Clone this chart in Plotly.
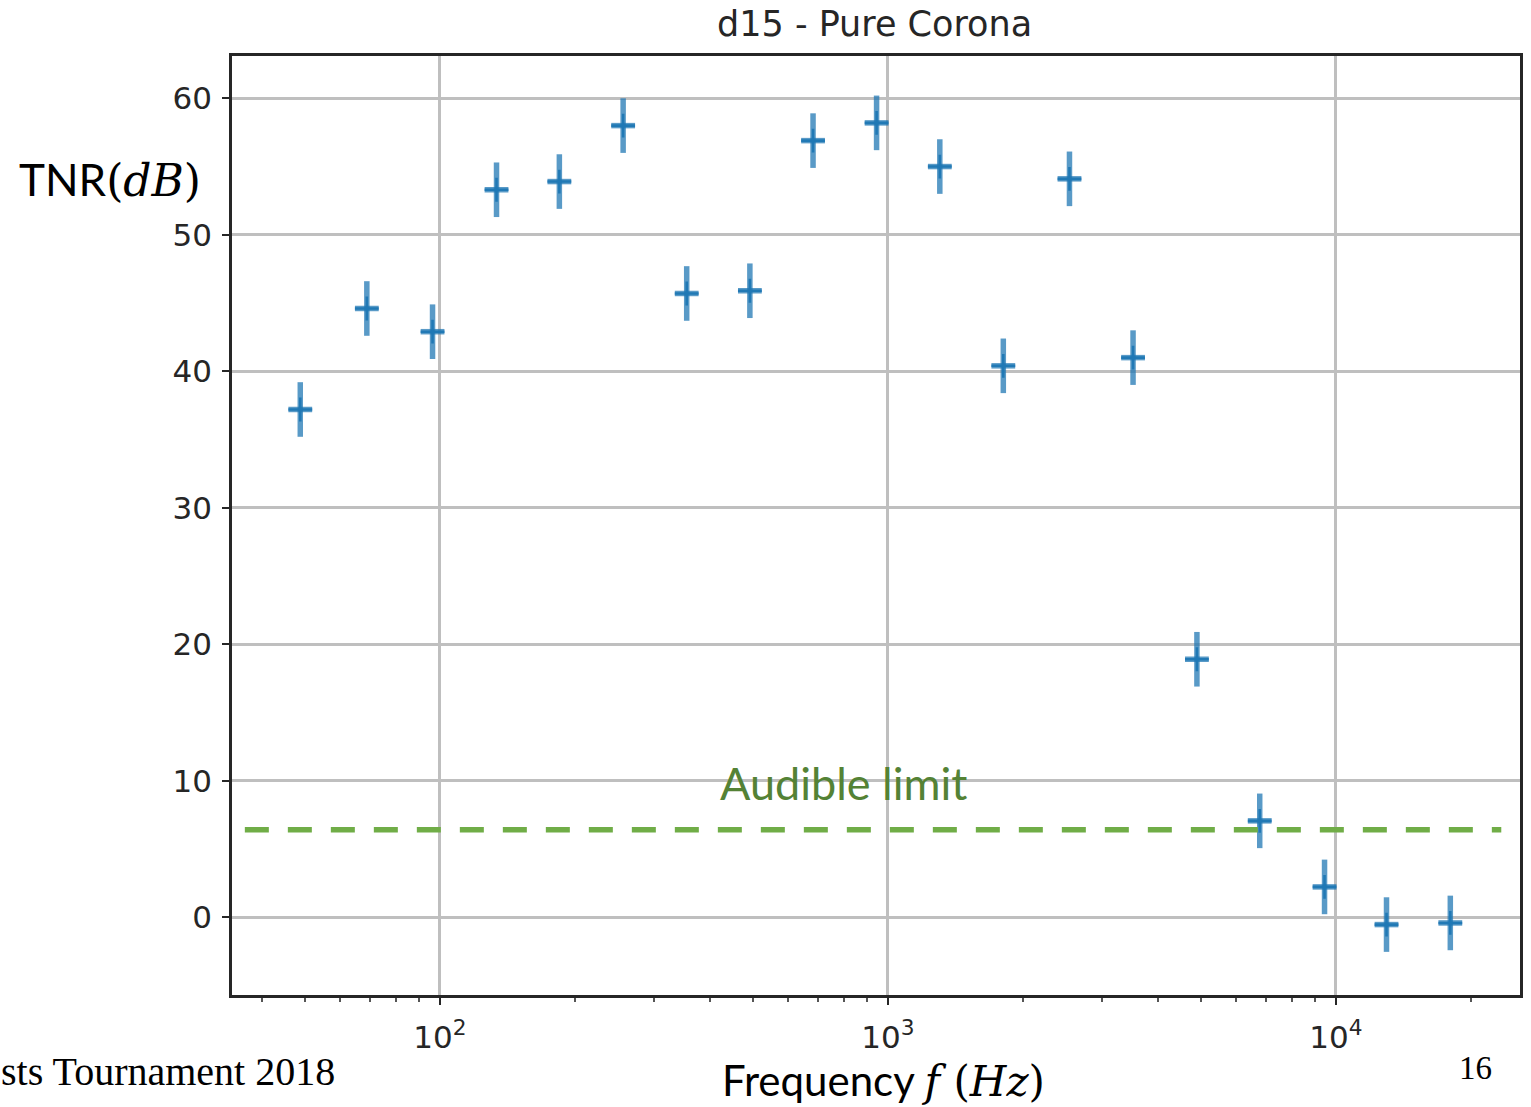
import plotly.graph_objects as go

# Measured band centre frequencies (Hz) and TNR (dB)
freq_hz = [48.8, 68.7, 96.3, 133.8, 184.8, 256.5, 355.6, 492.0, 680.7, 943.6,
           1306.0, 1810.0, 2543.0, 3526.0, 4896.0, 6761.0, 9434.0, 12973.0, 18007.0]
tnr_db = [37.2, 44.6, 42.9, 53.3, 53.9, 58.0, 45.7, 45.9, 56.9, 58.2,
          55.0, 40.4, 54.1, 41.0, 18.9, 7.06, 2.22, -0.54, -0.42]
tnr_err = [2.0] * len(freq_hz)

# Audible threshold and the frequency span it is drawn over
audible_limit_db = 6.4
limit_span_hz = [36.7, 23400.0]

y_ticks = [0, 10, 20, 30, 40, 50, 60]
x_major = [100, 1000, 10000]
x_major_text = ["10<sup>2</sup>", "10<sup>3</sup>", "10<sup>4</sup>"]
x_minor = [40, 50, 60, 70, 80, 90, 200, 300, 400, 500, 600, 700, 800, 900,
           2000, 3000, 4000, 5000, 6000, 7000, 8000, 9000, 20000]

BLUE_SOFT = "rgba(31,119,180,0.74)"
BLUE = "rgba(31,119,180,0.95)"
AXIS = "#262626"
GRID = "#bfbfbf"

W, H = 1531, 1107
L, R, T, B = 232, 8, 56, 112
PW, PH = W - L - R, H - T - B


def px(x):
    return (x - L) / PW


def py(y):
    return (H - B - y) / PH


fig = go.Figure()

# error bars with a short horizontal bar at each point
fig.add_trace(go.Scatter(
    x=freq_hz, y=tnr_db, mode="markers",
    error_y=dict(type="data", array=tnr_err, visible=True,
                 thickness=5.5, width=0, color=BLUE_SOFT),
    marker=dict(symbol="line-ew", size=17,
                line=dict(width=5.5, color=BLUE_SOFT), color=BLUE_SOFT),
    showlegend=False, hoverinfo="x+y",
))
# darker '+' marker on top
fig.add_trace(go.Scatter(
    x=freq_hz, y=tnr_db, mode="markers",
    marker=dict(symbol="cross-thin", size=17,
                line=dict(width=2.6, color=BLUE)),
    showlegend=False, hoverinfo="skip",
))

# audible limit
fig.add_trace(go.Scatter(
    x=limit_span_hz, y=[audible_limit_db, audible_limit_db], mode="lines",
    line=dict(color="#70ad47", width=5.5, dash="24px,19px"),
    showlegend=False, hoverinfo="skip",
))

tick_font = dict(family="DejaVu Sans", size=31, color=AXIS)

fig.update_xaxes(
    type="log", range=[1.536, 4.411],
    tickmode="array", tickvals=x_major, ticktext=x_major_text,
    ticks="outside", ticklen=7, tickwidth=2, tickcolor=AXIS,
    tickfont=tick_font, ticklabelstandoff=6,
    showgrid=True, gridcolor=GRID, gridwidth=2.5,
    showline=True, linecolor=AXIS, linewidth=2.5, mirror=True,
    zeroline=False,
    minor=dict(tickvals=x_minor, ticks="outside", ticklen=4, tickwidth=1.5,
               tickcolor="#555555", showgrid=False),
)
fig.update_yaxes(
    range=[-5.7, 63.1],
    tickmode="array", tickvals=y_ticks,
    ticks="outside", ticklen=7, tickwidth=2, tickcolor=AXIS,
    tickfont=tick_font, ticklabelstandoff=4,
    showgrid=True, gridcolor=GRID, gridwidth=2.5,
    showline=True, linecolor=AXIS, linewidth=2.5, mirror=True,
    zeroline=False,
)

label_font = dict(family="Lato", size=44, color="#000000")


def m(s):
    return f"<span style=\"font-family:'DejaVu Serif'\">{s}</span>"


annotations = [
    dict(text="d15 - Pure Corona", x=px(876), y=py(24),
         font=dict(family="DejaVu Sans", size=35, color=AXIS)),
    dict(text="TNR" + m("(<i>dB</i>)"), x=px(110), y=py(180),
         font=label_font),
    dict(text="Frequency " + m("<i>f</i> (<i>Hz</i>)"),
         x=px(885), y=py(1080), font=dict(family="Lato", size=42, color="#000000")),
    dict(text="Audible limit", x=px(845), y=py(783),
         font=dict(family="Lato", size=45, color="#548235")),
    dict(text="sts Tournament 2018", x=px(337), y=py(1071), xanchor="right",
         font=dict(family="Liberation Serif", size=40, color="#000000")),
    dict(text="16", x=px(1478), y=py(1068),
         font=dict(family="Liberation Serif", size=33, color="#000000")),
]
for a in annotations:
    a.setdefault("xanchor", "center")
    a.update(xref="paper", yref="paper", yanchor="middle", showarrow=False)

fig.update_layout(
    width=W, height=H,
    margin=dict(l=L, r=R, t=T, b=B),
    paper_bgcolor="white", plot_bgcolor="white",
    annotations=annotations,
)

fig.write_html("out.html")
